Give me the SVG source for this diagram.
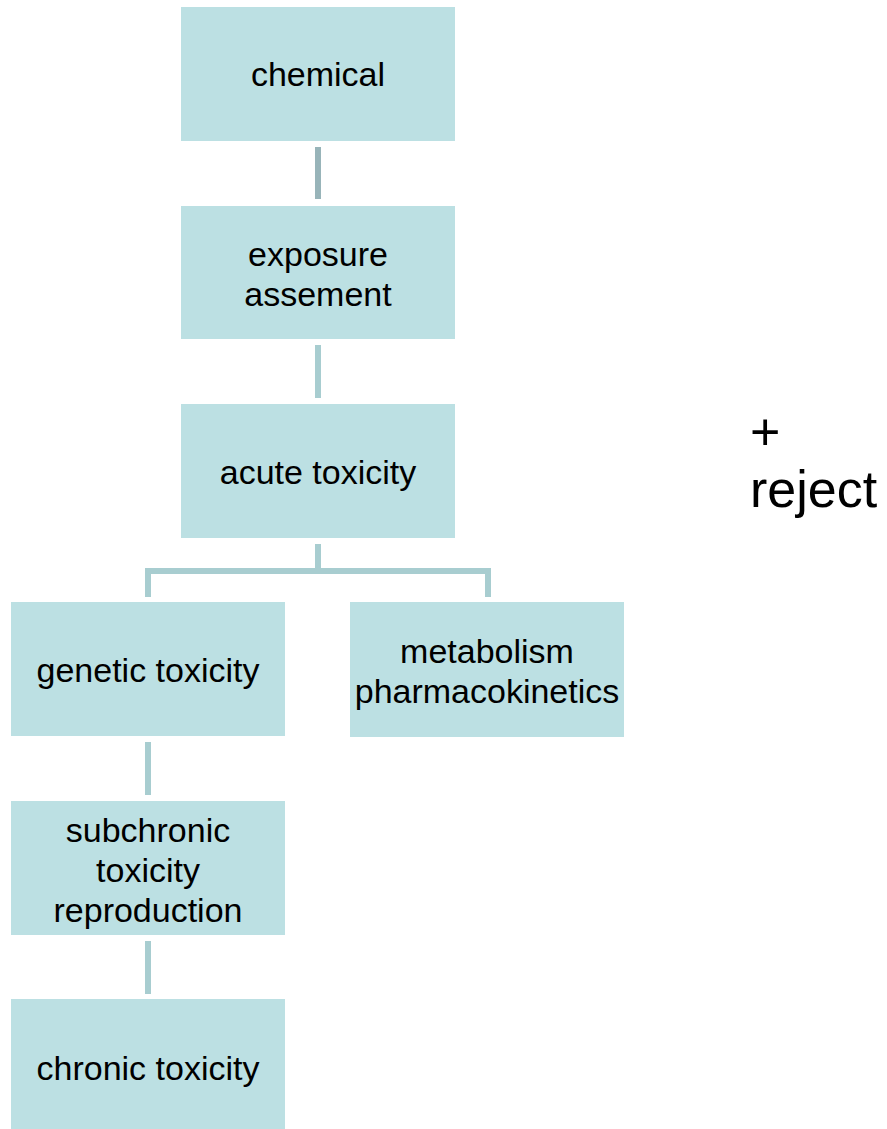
<svg xmlns="http://www.w3.org/2000/svg" width="887" height="1129" viewBox="0 0 887 1129">
<style>
.box{fill:#bce0e3}
.t{font-family:"Liberation Sans",Arial,sans-serif;font-size:34px;fill:#000;text-anchor:middle}
.c{fill:none;stroke:#a8cdd0;stroke-width:6}
.r{font-family:"Liberation Sans",Arial,sans-serif;font-size:52px;fill:#000}
</style>
<rect width="887" height="1129" fill="#fff"/>
<g id="connectors">
<line class="c" x1="318" y1="147" x2="318" y2="199" style="stroke:#98b4b9"/>
<line class="c" x1="318" y1="345" x2="318" y2="398"/>
<path class="c" d="M318 544 V571 M148 597 V571 H488 V597"/>
<line class="c" x1="148" y1="742" x2="148" y2="795"/>
<line class="c" x1="148" y1="941" x2="148" y2="994"/>
</g>
<g id="chemical"><rect class="box" x="181" y="7" width="274" height="134"/><text class="t" x="318" y="86">chemical</text></g>
<g id="exposure"><rect class="box" x="181" y="206" width="274" height="133"/><text class="t" x="318" y="266">exposure</text><text class="t" x="318" y="306">assement</text></g>
<g id="acute"><rect class="box" x="181" y="404" width="274" height="134"/><text class="t" x="318" y="484">acute toxicity</text></g>
<g id="genetic"><rect class="box" x="11" y="602" width="274" height="134"/><text class="t" x="148" y="682">genetic toxicity</text></g>
<g id="metabolism"><rect class="box" x="350" y="602" width="274" height="135"/><text class="t" x="487" y="663">metabolism</text><text class="t" x="487" y="703">pharmacokinetics</text></g>
<g id="subchronic"><rect class="box" x="11" y="801" width="274" height="134"/><text class="t" x="148" y="842">subchronic</text><text class="t" x="148" y="882">toxicity</text><text class="t" x="148" y="922">reproduction</text></g>
<g id="chronic"><rect class="box" x="11" y="999" width="274" height="134"/><text class="t" x="148" y="1080">chronic toxicity</text></g>
<g id="reject"><text class="r" x="750" y="450">+</text><text class="r" x="750" y="507">reject</text></g>
</svg>
